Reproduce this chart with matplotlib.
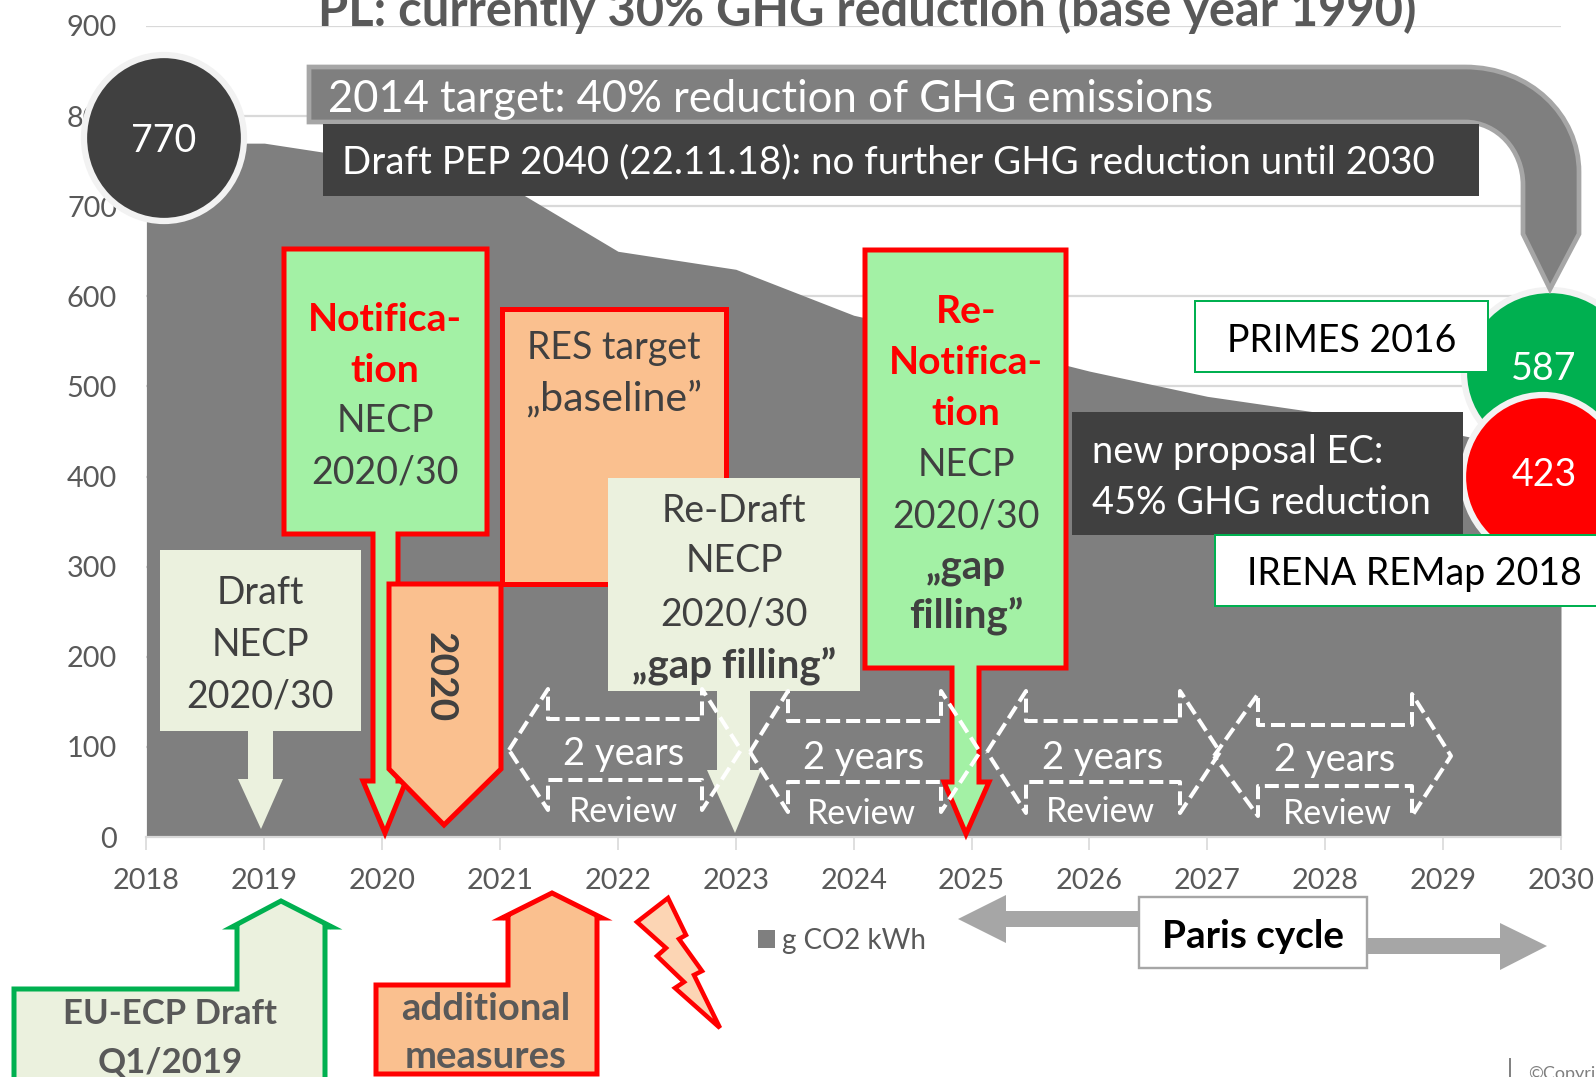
import matplotlib
matplotlib.use("Agg")
import matplotlib.pyplot as plt
from matplotlib.patches import Polygon, Rectangle, Ellipse, PathPatch
from matplotlib.path import Path

years = [2018, 2019, 2020, 2021, 2022, 2023, 2024, 2025, 2026, 2027, 2028, 2029, 2030]
co2 = [770, 770, 750, 728, 650, 630, 579, 550, 517, 489, 470, 450, 423]
y_ticks = [0, 100, 200, 300, 400, 500, 600, 700, 800, 900]
series_name = "g CO2 kWh"

GREY = "#7f7f7f"
DARK = "#404040"
TEXT = "#595959"
RED = "#ff0000"
GREEN = "#00b050"
LIGHTGREEN = "#a3f1a5"
ORANGE = "#fac08f"
PALE = "#ebf1de"
ARROW = "#a6a6a6"

plt.rcParams['font.family'] = ['Lato', 'DejaVu Sans']

W, H = 1596, 1077
fig = plt.figure(figsize=(W / 100, H / 100), dpi=100)

# chart itself
ax = fig.add_axes([146.4 / W, 1 - 837 / H, (1561 - 146.4) / W, (837 - 26) / H])
ax.fill_between(years, co2, 0, color=GREY, lw=0, label=series_name, zorder=2)
ax.set_xlim(2018, 2030)
ax.set_ylim(0, 900)
ax.set_xticks(years)
ax.set_yticks(y_ticks)
ax.grid(axis='y', color="#d9d9d9", lw=1.6, zorder=1)
for s in ['top', 'right', 'left']:
    ax.spines[s].set_visible(False)
ax.spines['bottom'].set_color("#d9d9d9")
ax.spines['bottom'].set_linewidth(1.6)
ax.tick_params(axis='y', length=0, pad=21, labelsize=20.8, labelcolor=TEXT)
ax.tick_params(axis='x', length=9, width=1.2, color="#d9d9d9", pad=13, labelsize=20.8, labelcolor=TEXT)
ax.legend(loc='center left', bbox_to_anchor=(758 / W, 1 - 941 / H), bbox_transform=fig.transFigure,
          frameon=False, fontsize=20, labelcolor=TEXT, handlelength=0.62, handleheight=0.62,
          handletextpad=0.25, borderpad=0, borderaxespad=0)

# overlay in pixels for the slide shapes
ov = fig.add_axes([0, 0, 1, 1], facecolor='none')
ov.set_xlim(0, W)
ov.set_ylim(H, 0)
ov.axis('off')


def poly(pts, fc, ec='none', lw=0.0, ls='-', z=3, join='miter'):
    p = Polygon(pts, closed=True, fc=fc, ec=ec, lw=lw * 0.72, ls=ls, zorder=z, joinstyle=join)
    ov.add_patch(p)
    return p


def box(x0, y0, x1, y1, fc, ec='none', lw=0.0, z=3):
    ov.add_patch(Rectangle((x0, y0), x1 - x0, y1 - y0, fc=fc, ec=ec, lw=lw * 0.72, zorder=z))


def circle(cx, cy, rx, ry, fc, z=3):
    ov.add_patch(Ellipse((cx, cy), 2 * rx, 2 * ry, fc=fc, ec="#f2f2f2", lw=4.5, zorder=z))


def txt(x, y, s, size=30, color=DARK, weight='normal', ha='center', z=10, rot=0):
    ov.text(x, y + 4.5, s, fontsize=size, color=color, fontweight=weight, ha=ha, va='center',
            zorder=z, rotation=rot, clip_on=False)


def double_arrow(xl, xa, xb, xr, ytop, ys0, ytip, ys1, ybot):
    pts = [(xl, ytip), (xa, ytop), (xa, ys0), (xb, ys0), (xb, ytop), (xr, ytip),
           (xb, ybot), (xb, ys1), (xa, ys1), (xa, ybot)]
    poly(pts, 'none', 'white', 4, (0, (3.5, 1.5)), z=8, join='round')


# title, cut by the top of the slide
txt(867, 6, "PL: currently 30% GHG reduction (base year 1990)", size=35.2, color=TEXT, weight='bold')

# big bent arrow
codes = [Path.MOVETO, Path.LINETO, Path.CURVE4, Path.CURVE4, Path.CURVE4, Path.LINETO, Path.LINETO,
         Path.LINETO, Path.LINETO, Path.CURVE4, Path.CURVE4, Path.CURVE4, Path.LINETO, Path.LINETO, Path.CLOSEPOLY]
verts = [(309, 67), (1465, 67), (1530, 67), (1579, 115), (1579, 172), (1579, 234), (1550, 289),
         (1523, 234), (1523, 185), (1523, 150), (1497, 122), (1465, 122), (309, 122), (309, 67), (309, 67)]
ov.add_patch(PathPatch(Path(verts, codes), fc=GREY, ec=ARROW, lw=3.4, zorder=4))
txt(328, 94.5, "2014 target: 40% reduction of GHG emissions", size=31.4, color='white', ha='left')

box(323, 124, 1479, 196, DARK, z=5)
txt(342.5, 158, "Draft PEP 2040 (22.11.18): no further GHG reduction until 2030", size=27.7, color='white', ha='left')

circle(164, 138, 80, 83, DARK, z=5)
txt(164, 137, "770", size=27, color='white')

# right side
circle(1550, 373, 86, 83, GREEN, z=3)
circle(1543, 477, 80, 82, RED, z=4)
txt(1544, 365, "587", size=27, color='white')
txt(1544, 471, "423", size=27, color='white')
box(1195, 301, 1488, 372, 'white', GREEN, 2, z=5)
txt(1342, 336, "PRIMES 2016", size=27, color='black')
box(1072, 412, 1463, 535, DARK, z=5)
txt(1092, 447, "new proposal EC:", size=27.4, color='white', ha='left')
txt(1092, 498, "45% GHG reduction", size=27.4, color='white', ha='left')
box(1215, 535, 1620, 606, 'white', GREEN, 2, z=5)
txt(1414, 570, "IRENA REMap 2018", size=27, color='black')

# notification callout
poly([(284, 249), (487, 249), (487, 534), (398, 534), (398, 781), (406, 781), (385, 833),
      (363, 781), (373, 781), (373, 534), (284, 534)], LIGHTGREEN, RED, 5)
for y, s, c, w in [(315, "Notifica-", RED, 'bold'), (366, "tion", RED, 'bold'),
                   (417, "NECP", DARK, 'normal'), (468, "2020/30", DARK, 'normal')]:
    txt(385, y, s, size=28.2 if w == 'bold' else 27, color=c, weight=w)

# RES box and 2020 arrow
box(502, 309, 726, 584, ORANGE, RED, 5, z=3)
txt(614, 344, "RES target", size=27)
txt(614, 394, "„baseline”", size=29.5)
poly([(389, 584), (501, 584), (501, 769), (444, 825), (389, 769)], ORANGE, RED, 5, z=4)
txt(440, 672.5, "2020", size=28, weight='bold', rot=270)

# draft boxes
poly([(160, 550), (361, 550), (361, 731), (273, 731), (273, 779), (283, 779), (261, 829),
      (238, 779), (248, 779), (248, 731), (160, 731)], PALE)
for y, s in [(589, "Draft"), (640, "NECP"), (692, "2020/30")]:
    txt(260, y, s, size=27)

poly([(608, 478), (860, 478), (860, 691), (750, 691), (750, 770), (761, 770), (735, 833),
      (707, 770), (717, 770), (717, 691), (608, 691)], PALE, z=5)
for y, s, w, fs in [(507, "Re-Draft", 'normal', 27), (557, "NECP", 'normal', 27), (610, "2020/30", 'normal', 27),
                    (661, "„gap filling”", 'bold', 29)]:
    txt(734, y, s, size=fs, weight=w)

# re-notification callout
poly([(865, 250), (1066, 250), (1066, 668), (979, 668), (979, 782), (989, 782), (966, 834),
      (944, 782), (952, 782), (952, 668), (865, 668)], LIGHTGREEN, RED, 5)
for y, s, c, w, fs in [(307, "Re-", RED, 'bold', 28.2), (358, "Notifica-", RED, 'bold', 28.2),
                       (409, "tion", RED, 'bold', 28.2), (460, "NECP", DARK, 'normal', 27),
                       (512, "2020/30", DARK, 'normal', 27), (562.5, "„gap", DARK, 'bold', 29),
                       (611.5, "filling”", DARK, 'bold', 29)]:
    txt(966, y, s, size=fs, color=c, weight=w)

# review arrows
double_arrow(509, 548, 702, 741, 689, 719, 750, 780, 810)
double_arrow(750, 788, 941, 980, 691, 721, 752, 782, 812)
double_arrow(987, 1026, 1180, 1220, 691, 721, 752, 782, 813)
double_arrow(1214, 1258, 1412, 1451, 694, 725, 756, 786, 816)
for x, y in [(624, 750), (864, 753), (1103, 753), (1335, 756)]:
    txt(x, y, "2 years", size=27.5, color='white')
for x, y in [(623, 808), (861, 810), (1100, 808), (1337, 810)]:
    txt(x, y, "Review", size=24.4, color='white')

# bottom arrows
poly([(14, 1090), (14, 989), (237, 989), (237, 927), (232, 927), (281, 901), (332, 927), (325, 927), (325, 1090)],
     PALE, GREEN, 5)
txt(170, 1010, "EU-ECP Draft", size=25, color=TEXT, weight='bold')
txt(170, 1058, "Q1/2019", size=25, color=TEXT, weight='bold')

poly([(376, 1074), (376, 985), (508, 985), (508, 918), (502, 918), (552, 893), (602, 918), (597, 918), (597, 1074)],
     ORANGE, RED, 5)
txt(486, 1005, "additional", size=27.5, color=TEXT, weight='bold')
txt(486, 1053, "measures", size=27.5, color=TEXT, weight='bold')

poly([(668, 898), (637, 922), (666, 948), (657, 956), (684, 982), (675, 988), (720, 1028),
      (694, 975), (702, 971), (679, 939), (686, 935)], "#fcd5b4", RED, 4.5)

# paris cycle
poly([(958, 919), (1006, 895), (1006, 911), (1140, 911), (1140, 927), (1006, 927), (1006, 943)], ARROW)
poly([(1367, 938), (1500, 938), (1500, 923), (1547, 946), (1500, 970), (1500, 954), (1367, 954)], ARROW)
box(1139, 897, 1367, 968, 'white', ARROW, 2.4, z=5)
txt(1253, 932, "Paris cycle", size=27.8, color='black', weight='bold')

# footer
ov.plot([1510, 1510], [1059, 1077], color=GREY, lw=1.4, zorder=3)
txt(1528, 1069, "©Copyright", size=13, color=GREY, ha='left')

fig.savefig("out.png", dpi=100)
